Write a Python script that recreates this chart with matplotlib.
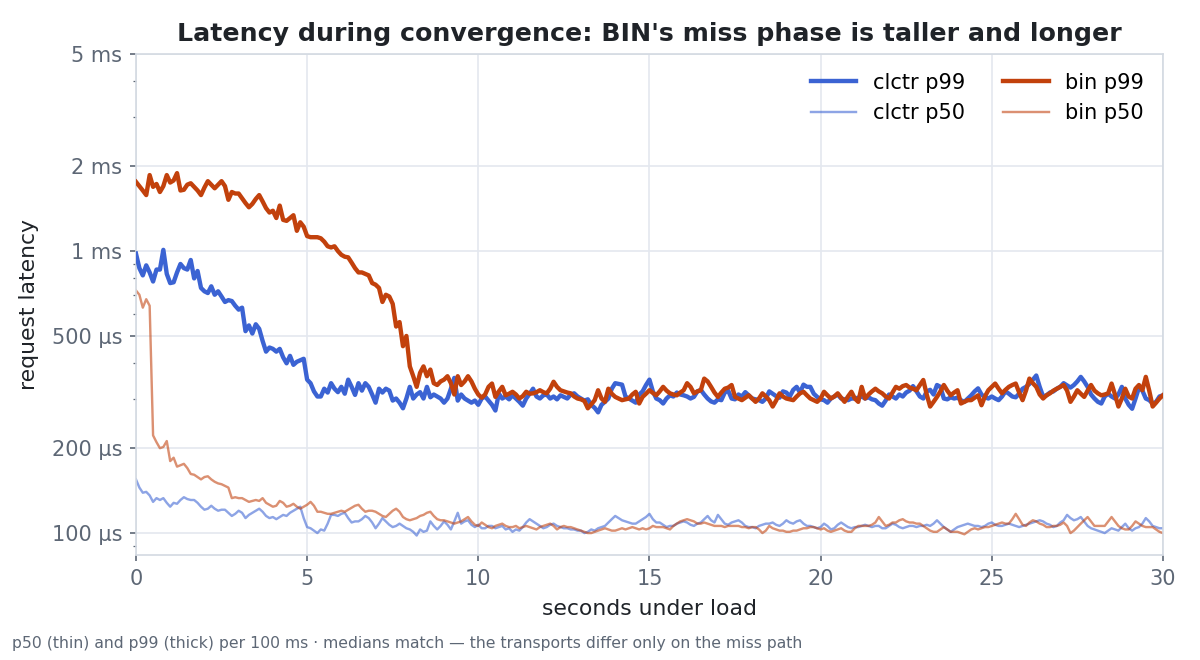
import numpy as np
import matplotlib
matplotlib.use("Agg")
import matplotlib.pyplot as plt
from matplotlib.ticker import FixedLocator, FuncFormatter, LogLocator, NullFormatter

# latency per 100 ms window, in microseconds (t = 0.0 .. 30.0 s)
clctr_p99 = [
    980, 870, 820, 890, 840, 780, 860, 860, 1010, 830,
    770, 775, 840, 900, 870, 860, 930, 800, 850, 740,
    720, 710, 750, 700, 720, 690, 660, 670, 665, 640,
    620, 630, 520, 545, 510, 550, 530, 480, 440, 455,
    450, 440, 450, 420, 400, 425, 395, 405, 410, 415,
    350, 340, 318, 305, 305, 325, 315, 340, 325, 316,
    330, 312, 350, 330, 309, 340, 320, 340, 330, 310,
    290, 325, 315, 325, 320, 295, 300, 290, 277, 300,
    330, 300, 310, 316, 300, 330, 303, 310, 305, 300,
    290, 300, 325, 355, 295, 310, 300, 295, 290, 295,
    285, 300, 305, 295, 285, 272, 312, 300, 305, 298,
    308, 300, 292, 283, 300, 312, 325, 305, 300, 308,
    310, 300, 305, 298, 308, 304, 300, 310, 313, 305,
    300, 295, 298, 285, 278, 268, 285, 292, 300, 325,
    340, 338, 336, 305, 300, 295, 290, 310, 318, 335,
    350, 318, 300, 296, 288, 300, 308, 305, 315, 310,
    308, 305, 300, 304, 318, 322, 310, 300, 293, 290,
    298, 296, 315, 320, 300, 298, 310, 305, 316, 308,
    300, 298, 296, 292, 300, 318, 312, 306, 302, 318,
    315, 305, 322, 330, 315, 336, 330, 330, 312, 304,
    298, 296, 290, 300, 305, 310, 300, 298, 296, 300,
    300, 302, 305, 300, 303, 298, 296, 288, 283, 295,
    310, 305, 300, 310, 305, 315, 320, 332, 318, 305,
    300, 318, 322, 310, 335, 330, 300, 298, 303, 300,
    302, 296, 292, 300, 308, 318, 326, 310, 303, 300,
    305, 300, 296, 305, 318, 312, 305, 303, 312, 325,
    330, 338, 350, 362, 330, 305, 308, 315, 318, 325,
    330, 340, 334, 328, 335, 345, 358, 345, 330, 310,
    300, 292, 288, 305, 312, 305, 300, 310, 330, 300,
    285, 276, 300, 328, 320, 300, 296, 288, 292, 305, 308,
]
clctr_p50 = [
    155, 145, 139, 140, 136, 129, 133, 131, 133, 128,
    124, 128, 127, 131, 134, 132, 131, 131, 128, 124,
    121, 122, 125, 122, 120, 121, 121, 118, 115, 117,
    120, 118, 113, 116, 118, 120, 122, 119, 115, 113,
    114, 112, 114, 116, 115, 118, 120, 122, 124, 113,
    105, 104, 102, 100, 103, 102, 108, 116, 116, 115,
    117, 118, 113, 109, 110, 110, 112, 115, 113, 109,
    104, 108, 113, 110, 107, 105, 106, 108, 106, 104,
    103, 101, 98, 103, 101, 102, 110, 106, 103, 106,
    110, 107, 103, 110, 118, 108, 110, 111, 107, 105,
    107, 104, 104, 106, 106, 104, 105, 106, 103, 104,
    101, 103, 102, 105, 109, 112, 110, 108, 106, 104,
    105, 107, 108, 106, 105, 104, 104, 103, 103, 102,
    102, 100, 101, 103, 102, 104, 105, 106, 109, 112,
    115, 113, 111, 110, 109, 108, 108, 110, 112, 114,
    117, 112, 109, 109, 107, 105, 106, 106, 108, 109,
    110, 109, 107, 106, 108, 109, 112, 115, 111, 109,
    116, 112, 108, 107, 109, 110, 111, 109, 106, 105,
    105, 104, 106, 107, 108, 108, 109, 107, 106, 108,
    111, 109, 108, 110, 111, 108, 106, 106, 105, 104,
    105, 108, 106, 103, 104, 107, 109, 107, 105, 104,
    105, 105, 106, 107, 106, 105, 106, 106, 104, 104,
    106, 108, 107, 105, 104, 105, 106, 106, 105, 106,
    106, 107, 106, 108, 111, 108, 105, 103, 101, 103,
    105, 106, 107, 108, 107, 106, 106, 105, 106, 108,
    109, 107, 106, 106, 107, 108, 107, 106, 105, 106,
    107, 108, 109, 110, 111, 110, 108, 107, 105, 106,
    109, 111, 116, 113, 111, 112, 114, 110, 106, 104,
    103, 102, 101, 100, 102, 104, 103, 102, 105, 108,
    104, 102, 104, 105, 108, 113, 110, 106, 105, 104, 104,
]
bin_p99 = [
    1760, 1700, 1640, 1580, 1860, 1690, 1730, 1620, 1700, 1860,
    1750, 1780, 1890, 1640, 1650, 1720, 1740, 1690, 1640, 1580,
    1680, 1770, 1720, 1670, 1720, 1770, 1700, 1520, 1620, 1600,
    1600, 1540, 1480, 1430, 1470, 1530, 1580, 1500, 1420, 1370,
    1390, 1310, 1450, 1290, 1280, 1310, 1340, 1180, 1265, 1220,
    1130, 1120, 1120, 1120, 1110, 1080, 1040, 1030, 1040, 1000,
    970, 955, 950, 910, 870, 840, 840, 830, 820, 770,
    760, 740, 660, 700, 690, 650, 540, 560, 460, 500,
    390, 360, 330, 370, 390, 360, 380, 340, 335, 345,
    350, 360, 340, 310, 360, 335, 345, 360, 345, 325,
    310, 302, 310, 330, 339, 304, 318, 330, 308, 312,
    317, 310, 300, 306, 317, 312, 313, 316, 321, 316,
    313, 325, 344, 330, 321, 318, 315, 313, 305, 300,
    298, 294, 277, 286, 296, 321, 300, 292, 325, 312,
    304, 300, 296, 298, 300, 310, 317, 288, 304, 312,
    321, 314, 308, 318, 330, 320, 313, 310, 308, 315,
    321, 340, 330, 313, 318, 321, 353, 345, 330, 315,
    304, 315, 325, 328, 335, 304, 300, 296, 302, 308,
    300, 292, 300, 313, 305, 296, 281, 295, 313, 305,
    300, 298, 296, 305, 313, 317, 308, 300, 296, 292,
    300, 317, 308, 300, 305, 313, 302, 292, 305, 317,
    300, 292, 330, 300, 310, 318, 325, 318, 313, 305,
    300, 315, 330, 325, 332, 335, 328, 325, 321, 335,
    349, 310, 281, 292, 304, 318, 335, 320, 308, 315,
    321, 288, 292, 296, 296, 302, 308, 284, 305, 321,
    330, 339, 325, 313, 322, 330, 335, 339, 315, 296,
    320, 353, 340, 330, 310, 300, 308, 313, 320, 325,
    330, 335, 320, 292, 305, 321, 312, 304, 320, 335,
    320, 313, 308, 310, 313, 339, 310, 281, 300, 325,
    305, 300, 325, 335, 321, 358, 320, 281, 290, 300, 308,
]
bin_p50 = [
    725, 700, 630, 675, 640, 222, 210, 200, 202, 212,
    180, 185, 172, 174, 176, 170, 162, 161, 158, 155,
    158, 159, 155, 152, 150, 149, 147, 145, 133, 134,
    133, 133, 131, 129, 130, 131, 130, 133, 128, 126,
    124, 125, 130, 128, 124, 125, 127, 124, 122, 124,
    126, 129, 125, 119, 119, 118, 117, 117, 118, 119,
    120, 119, 121, 123, 125, 126, 122, 119, 120, 120,
    119, 117, 115, 114, 117, 120, 122, 119, 114, 112,
    111, 112, 113, 115, 116, 118, 119, 115, 112, 111,
    111, 110, 109, 108, 109, 110, 112, 114, 110, 107,
    106, 109, 107, 105, 104, 106, 107, 108, 106, 105,
    105, 106, 104, 105, 106, 105, 104, 103, 105, 106,
    107, 108, 106, 103, 105, 106, 105, 105, 104, 103,
    102, 101, 100, 100, 101, 102, 103, 104, 103, 102,
    102, 103, 104, 103, 104, 105, 104, 103, 104, 103,
    104, 106, 105, 105, 105, 104, 103, 106, 108, 110,
    111, 112, 111, 110, 108, 108, 109, 108, 107, 106,
    106, 106, 105, 106, 106, 106, 106, 105, 105, 104,
    105, 105, 103, 100, 102, 106, 104, 103, 102, 102,
    101, 101, 102, 102, 103, 104, 104, 105, 105, 104,
    103, 104, 102, 101, 102, 103, 104, 102, 101, 101,
    104, 106, 106, 106, 106, 107, 109, 114, 110, 106,
    107, 109, 109, 111, 112, 110, 109, 109, 108, 108,
    106, 104, 102, 101, 101, 103, 105, 103, 101, 101,
    101, 100, 99, 101, 103, 104, 103, 104, 105, 105,
    106, 107, 108, 109, 108, 108, 112, 117, 112, 107,
    106, 109, 111, 110, 108, 107, 105, 105, 106, 106,
    107, 109, 106, 100, 102, 105, 108, 111, 114, 110,
    106, 106, 106, 106, 110, 114, 110, 106, 104, 103,
    103, 106, 110, 108, 106, 105, 105, 105, 103, 101, 100,
]

seconds = np.arange(len(clctr_p99)) / 10
y_ticks = [100, 200, 500, 1000, 2000, 5000]

BLUE = "#3b63d3"
ORANGE = "#c2410c"
INK = "#1f2328"
MUTED = "#5d6775"
GRID = "#e4e8ef"
SPINE = "#d3d9e1"


def fmt_latency(v, pos):
    if v >= 1000:
        return f"{v / 1000:g} ms"
    return f"{v:g} µs"


fig = plt.figure(figsize=(8, 4.4), dpi=150)
ax = fig.add_axes([0.1133, 0.1591, 0.8558, 0.7591])

ax.plot(seconds, clctr_p99, color=BLUE, lw=2.1, label="clctr p99", zorder=3)
ax.plot(seconds, clctr_p50, color=BLUE, lw=1.15, alpha=0.58, label="clctr p50", zorder=2)
ax.plot(seconds, bin_p99, color=ORANGE, lw=2.1, label="bin p99", zorder=3)
ax.plot(seconds, bin_p50, color=ORANGE, lw=1.15, alpha=0.58, label="bin p50", zorder=2)

ax.set_yscale("log")
ax.set_ylim(83.6, 5000)
ax.set_xlim(0, 30)
ax.yaxis.set_major_locator(FixedLocator(y_ticks))
ax.yaxis.set_major_formatter(FuncFormatter(fmt_latency))
ax.yaxis.set_minor_locator(LogLocator(base=10, subs=range(2, 10)))
ax.yaxis.set_minor_formatter(NullFormatter())
ax.set_xticks([0, 5, 10, 15, 20, 25, 30])

ax.grid(True, which="major", color=GRID, lw=0.8)
ax.set_axisbelow(True)
for s in ax.spines.values():
    s.set_color(SPINE)
    s.set_linewidth(0.8)

ax.tick_params(axis="both", which="major", labelsize=10, labelcolor=MUTED,
               color=MUTED, length=3, width=0.8)
ax.tick_params(axis="y", which="minor", color=MUTED, length=1.6, width=0.6)

ax.set_xlabel("seconds under load", fontsize=10.5, color=INK, labelpad=5)
ax.set_ylabel("request latency", fontsize=10.5, color=INK, labelpad=6)
ax.set_title("Latency during convergence: BIN's miss phase is taller and longer",
             fontsize=12.1, fontweight="bold", color=INK, pad=6)

ax.legend(loc="upper right", ncol=2, frameon=False, fontsize=10,
          handlelength=2.2, columnspacing=1.8)

fig.text(0.01, 0.018,
         "p50 (thin) and p99 (thick) per 100 ms · medians match — the transports differ only on the miss path",
         fontsize=7.5, color=MUTED)

fig.savefig("out.png", dpi=150)
